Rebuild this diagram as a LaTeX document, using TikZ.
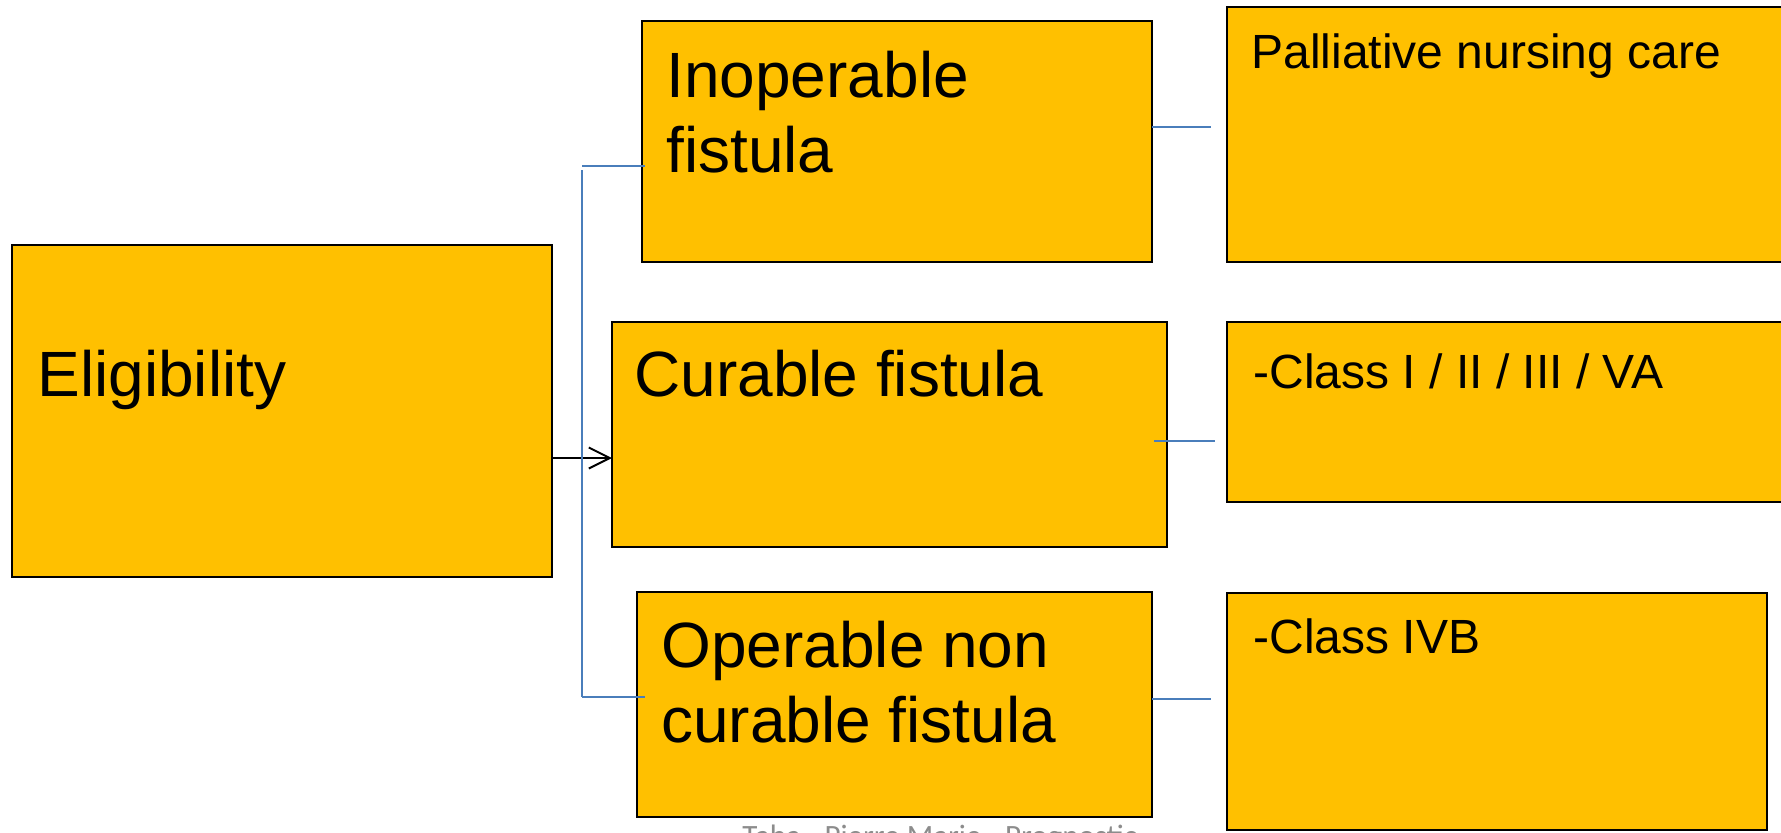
\documentclass[tikz,border=0pt]{standalone}
\usepackage{fontspec}
\setmainfont{Liberation Sans}
\newfontfamily\notefont{Carlito}
\usetikzlibrary{arrows.meta}
\definecolor{boxfill}{RGB}{255,192,0}
\definecolor{linkblue}{RGB}{74,126,187}
\definecolor{notegray}{RGB}{140,140,140}
\tikzset{
  box/.style={draw=black, line width=0.8pt, fill=boxfill, rectangle,
    anchor=north west, inner sep=0pt, outer sep=0pt},
  bigtext/.style={anchor=base west, inner sep=0pt, align=left,
    font=\fontsize{32pt}{37.5pt}\selectfont},
  smalltext/.style={anchor=base west, inner sep=0pt,
    font=\fontsize{24pt}{28pt}\selectfont},
  link/.style={draw=linkblue, line width=0.8pt},
}
\begin{document}
\begin{tikzpicture}[x=0.5pt, y=-0.5pt]
\useasboundingbox (0,0) rectangle (1781,832);
\clip (0,0) rectangle (1781,832);
\fill[white] (0,0) rectangle (1781,832);

% boxes
\node[box, minimum width=270pt, minimum height=166pt]   (elig) at (12,245) {};
\node[box, minimum width=255pt, minimum height=120.5pt] (inop) at (642,21) {};
\node[box, minimum width=277.5pt, minimum height=112.5pt] (cur) at (612,322) {};
\node[box, minimum width=257.5pt, minimum height=112.5pt] (oper) at (637,592) {};
\node[box, minimum width=286.5pt, minimum height=127.5pt] (pall) at (1227,7) {};
\node[box, minimum width=286.5pt, minimum height=90pt]  (clsa) at (1227,322) {};
\node[box, minimum width=270pt, minimum height=118.5pt] (clsb) at (1227,593) {};

% labels (multi-line labels sit on the baseline of their last line)
\node[bigtext] (eligtxt) at (37,396) {Eligibility};
\node[bigtext] (inoptxt) at (666,172) {Inoperable\\fistula};
\node[bigtext] (curtxt)  at (634,396) {Curable fistula};
\node[bigtext] (opertxt) at (661,742) {Operable non\\curable fistula};
\node[smalltext] (palltxt) at (1251,68) {Palliative nursing care};
\node[smalltext] (clsatxt) at (1253,388) {-Class I / II / III / VA};
\node[smalltext] (clsbtxt) at (1253,653) {-Class IVB};

% arrow from the eligibility box
\draw[line width=1pt, -{Straight Barb[length=10.5pt, width=10.5pt, line width=1pt]}]
  (elig.east |- 0,458) -- (cur.west |- 0,458);

% left bracket
\coordinate (btop) at (582,166);
\coordinate (bbot) at (582,697);
\draw[link] (btop) -- ([xshift=1.5pt]inop.west |- btop);
\draw[link] (582,170) -- (bbot);
\draw[link] (bbot) -- ([xshift=4pt]oper.west |- bbot);

% right connectors
\coordinate (ra) at (1211,127);
\coordinate (rb) at (1215,441);
\coordinate (rc) at (1211,699);
\draw[link] (inop.east |- ra) -- (ra);
\draw[link] ([xshift=-6.5pt]cur.east |- rb) -- (rb);
\draw[link] (oper.east |- rc) -- (rc);

% source note, cut by the page edge
\node[anchor=base west, inner sep=0pt, text=notegray,
  font=\notefont\fontsize{15.5pt}{18pt}\selectfont] (note) at (742,846)
  {Taba - Pierre Marie - Prognostic};
\end{tikzpicture}
\end{document}
